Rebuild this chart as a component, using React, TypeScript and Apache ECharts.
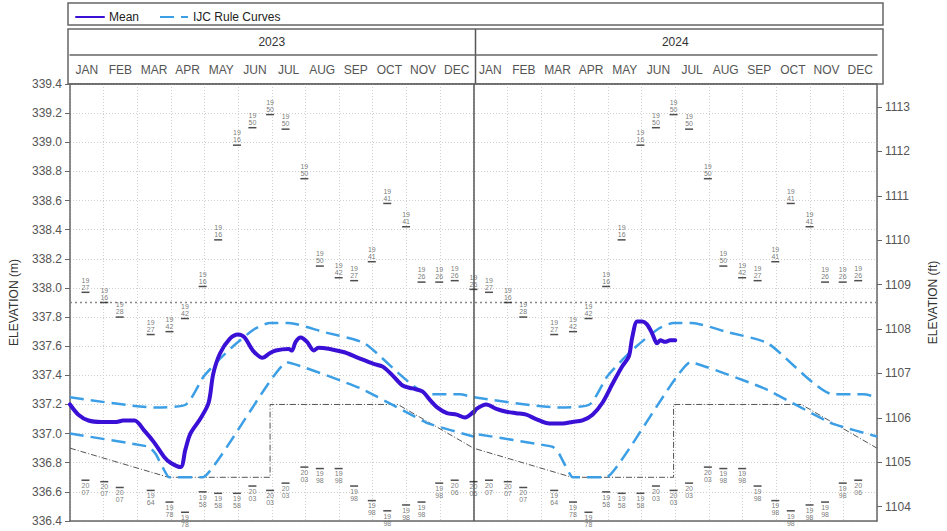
import React, { useEffect, useRef } from 'react';
import * as echarts from 'echarts';

const MONTHS = ['JAN', 'FEB', 'MAR', 'APR', 'MAY', 'JUN', 'JUL', 'AUG', 'SEP', 'OCT', 'NOV', 'DEC'];
const YEARS = ['2023', '2024'];
const FT_TICKS = [1104, 1105, 1106, 1107, 1108, 1109, 1110, 1111, 1112, 1113];

// [month within year, elevation m]
const mean2023: [number, number][] = [
  [0, 337.2], [0.25, 337.13], [0.55, 337.09], [0.94, 337.08], [1.38, 337.08], [1.58, 337.09], [1.92, 337.09],
  [2.21, 337.02], [2.5, 336.94], [2.8, 336.84], [2.99, 336.8], [3.29, 336.77], [3.43, 336.89], [3.58, 337.0],
  [3.87, 337.1], [4.12, 337.21], [4.26, 337.41], [4.46, 337.55], [4.75, 337.65], [5.0, 337.68], [5.19, 337.66],
  [5.44, 337.57], [5.73, 337.52], [5.93, 337.55], [6.12, 337.57], [6.5, 337.58], [6.6, 337.57], [6.71, 337.63],
  [6.86, 337.66], [7.05, 337.63], [7.25, 337.57], [7.39, 337.59], [8.13, 337.56], [8.57, 337.52], [9.01, 337.48],
  [9.3, 337.46], [9.59, 337.4], [9.89, 337.33], [10.18, 337.31], [10.48, 337.29], [10.71, 337.23], [10.92, 337.18],
  [11.21, 337.14], [11.5, 337.13], [11.74, 337.11], [12, 337.15],
];
const mean2024: [number, number][] = [
  [0, 337.14], [0.09, 337.17], [0.38, 337.2], [0.68, 337.17], [0.98, 337.15], [1.27, 337.14], [1.57, 337.13],
  [1.86, 337.1], [2.26, 337.07], [2.65, 337.07], [2.94, 337.08], [3.24, 337.09], [3.54, 337.13], [3.83, 337.21],
  [4.13, 337.34], [4.42, 337.46], [4.62, 337.53], [4.72, 337.66], [4.87, 337.77], [5.02, 337.77], [5.16, 337.75],
  [5.31, 337.69], [5.46, 337.62], [5.56, 337.64], [5.7, 337.63], [5.85, 337.64], [6.0, 337.64],
];
const ruleUpper: [number, number][] = [
  [0, 337.25], [2.5, 337.18], [3.45, 337.2], [3.97, 337.39], [4.4, 337.5], [4.85, 337.6], [5.5, 337.72],
  [5.95, 337.76], [6.5, 337.76], [7.5, 337.7], [8.75, 337.62], [10.7, 337.27], [11.6, 337.27], [12, 337.25],
];
const ruleLower: [number, number][] = [
  [0, 337.0], [2.35, 336.91], [2.55, 336.86], [2.95, 336.7], [3.95, 336.7], [6.45, 337.49], [8.65, 337.31],
  [10.65, 337.07], [12, 336.98],
];
const drawdown: [number, number][] = [
  [0, 336.9], [2.93, 336.7], [5.95, 336.7], [5.95, 337.2], [9.75, 337.2], [12, 336.9],
];
const FLOOD_LEVEL = 337.9;

// record dates (day of year) with record high / low elevations and years
const recordDays = [0, 14, 31, 45, 73, 90, 104, 120, 134, 151, 165, 181, 195, 212, 226, 243, 257, 273, 287, 304, 318, 334, 348];
const recordMax = [337.99, 337.97, 337.9, 337.8, 337.68, 337.7, 337.79, 338.01, 338.33, 338.98, 339.1, 339.19, 339.09, 338.75, 338.15, 338.07, 338.05, 338.18, 338.58, 338.42, 338.04, 338.04, 338.05];
const recordMaxYear = ['1926', '1927', '1916', '1928', '1927', '1942', '1942', '1916', '1916', '1916', '1950', '1950', '1950', '1950', '1950', '1942', '1927', '1941', '1941', '1941', '1926', '1926', '1926'];
const recordMin = [336.67, 336.68, 336.67, 336.63, 336.61, 336.53, 336.46, 336.6, 336.59, 336.59, 336.64, 336.61, 336.66, 336.77, 336.76, 336.76, 336.64, 336.54, 336.47, 336.51, 336.53, 336.66, 336.68];
const recordMinYear = ['2006', '2007', '2007', '2007', '1964', '1978', '1978', '1958', '1958', '1958', '2003', '2003', '2003', '2003', '1998', '1998', '1998', '1998', '1998', '1998', '1998', '1998', '2006'];

const W = 947;
const H = 531;
const GRID = { left: 68, right: 64, top: 84, bottom: 10 };
const FONT = '"Liberation Sans", Arial, sans-serif';
const MEAN_COLOR = '#3a0fd6';
const RULE_COLOR = '#3c9fe6';
const FT = 0.3048;

const bothYears = (pts: [number, number][]) =>
  YEARS.flatMap((_, yi) => pts.map(([m, v]) => [m + yi * 12, v]));

const recordPoints = (vals: number[], yrs: string[]) =>
  YEARS.flatMap((_, yi) =>
    recordDays.map((d, i) => ({ value: [yi * 12 + (d * 12) / 365, vals[i]], name: yrs[i] }))
  ).filter((p) => p.value[0] > 0);

export default function App() {
  const ref = useRef<HTMLDivElement>(null);
  useEffect(() => {
    const chart = echarts.init(ref.current!, null, { renderer: 'svg' });
    const plotW = W - GRID.left - GRID.right;
    const divX = GRID.left + plotW / 2;
    const labelStyle = (pos: 'top' | 'bottom') => ({
      show: true,
      position: pos,
      distance: 1,
      fontSize: 7,
      lineHeight: 7,
      color: '#555',
      fontFamily: FONT,
      formatter: (p: any) => `${p.name.slice(0, 2)}\n${p.name.slice(2)}`,
    });
    chart.setOption({
      animation: false,
      textStyle: { fontFamily: FONT },
      grid: { ...GRID, containLabel: false },
      legend: {
        left: GRID.left + 2,
        top: 6,
        itemWidth: 28,
        itemHeight: 10,
        itemGap: 20,
        itemStyle: { opacity: 0 },
        textStyle: { fontSize: 12, color: '#222', fontFamily: FONT },
        data: ['Mean', 'IJC Rule Curves'],
      },
      graphic: [
        { type: 'rect', shape: { x: GRID.left, y: 3, width: plotW, height: 22 }, style: { fill: 'none', stroke: '#666', lineWidth: 1.5 } },
        { type: 'rect', shape: { x: GRID.left, y: 29, width: plotW, height: GRID.top - 29 }, style: { fill: 'none', stroke: '#666', lineWidth: 1.5 } },
        { type: 'line', shape: { x1: divX, y1: 29, x2: divX, y2: GRID.top }, style: { stroke: '#555', lineWidth: 1.5 } },
      ],
      xAxis: [
        {
          type: 'value', min: 0, max: 24, interval: 1, position: 'bottom',
          axisLine: { show: true, onZero: false, lineStyle: { color: '#666', width: 1.5 } },
          axisTick: { show: false }, axisLabel: { show: false },
          splitLine: { show: true, lineStyle: { color: '#cfcfcf', type: [1, 2], width: 1 } },
        },
        {
          type: 'category', position: 'top', offset: 0,
          data: YEARS.flatMap(() => MONTHS),
          axisLine: { show: true, lineStyle: { color: '#666', width: 1.5 } },
          axisTick: { show: false }, splitLine: { show: false },
          axisLabel: { interval: 0, margin: 8, fontSize: 12, color: '#555', fontFamily: FONT },
        },
        {
          type: 'category', position: 'top', offset: 29,
          data: YEARS,
          axisLine: { show: true, lineStyle: { color: '#666', width: 1.5 } },
          axisTick: { show: false }, splitLine: { show: false },
          axisLabel: { interval: 0, margin: 7, fontSize: 12, color: '#333', fontFamily: FONT },
        },
      ],
      yAxis: [
        {
          type: 'value', min: 336.4, max: 339.4, interval: 0.2, position: 'left',
          name: 'ELEVATION (m)', nameLocation: 'middle', nameGap: 50, nameRotate: 90,
          nameTextStyle: { fontSize: 12, color: '#333', fontFamily: FONT },
          axisLine: { show: true, lineStyle: { color: '#666', width: 1.5 } },
          axisTick: { show: true, length: 5, lineStyle: { color: '#666' } },
          axisLabel: { fontSize: 12, color: '#555', margin: 8, formatter: (v: number) => v.toFixed(1) },
          splitLine: { show: true, lineStyle: { color: '#cfcfcf', type: [1, 2], width: 1 } },
        },
        {
          type: 'value', min: 336.4 / FT, max: 339.4 / FT, position: 'right',
          name: 'ELEVATION (ft)', nameLocation: 'middle', nameGap: 50, nameRotate: 90,
          nameTextStyle: { fontSize: 12, color: '#333', fontFamily: FONT },
          axisLine: { show: true, lineStyle: { color: '#666', width: 1.5 } },
          axisTick: { show: true, length: 5, lineStyle: { color: '#666' }, customValues: FT_TICKS },
          axisLabel: { fontSize: 12, color: '#555', margin: 8, customValues: FT_TICKS, formatter: (v: number) => String(Math.round(v)) },
          splitLine: { show: false },
        },
      ],
      series: [
        {
          name: 'FloodLevel', type: 'line', symbol: 'none', silent: true,
          data: [[0, FLOOD_LEVEL], [24, FLOOD_LEVEL]],
          lineStyle: { color: '#888', width: 1.5, type: [2, 3] },
          markLine: {
            silent: true, symbol: 'none', label: { show: false },
            lineStyle: { color: '#555', width: 1.5, type: 'solid' },
            data: [{ xAxis: 12 }],
          },
          z: 1,
        },
        {
          name: 'Drawdown', type: 'line', symbol: 'none', silent: true,
          data: bothYears(drawdown),
          lineStyle: { color: '#555', width: 1, type: [6, 2, 1, 2] },
          z: 2,
        },
        {
          name: 'IJC Rule Curves', type: 'line', symbol: 'none',
          data: bothYears(ruleUpper), smooth: 0.2,
          lineStyle: { color: RULE_COLOR, width: 2.5, type: [14, 7] },
          itemStyle: { color: RULE_COLOR },
          z: 3,
        },
        {
          name: 'IJC Rule Curves', type: 'line', symbol: 'none',
          data: bothYears(ruleLower), smooth: 0.1,
          lineStyle: { color: RULE_COLOR, width: 2.5, type: [14, 7] },
          itemStyle: { color: RULE_COLOR },
          z: 3,
        },
        {
          name: 'Mean', type: 'line', symbol: 'none', smooth: 0.3,
          data: mean2023.map(([m, v]) => [m, v]),
          lineStyle: { color: MEAN_COLOR, width: 4, cap: 'round', join: 'round' },
          itemStyle: { color: MEAN_COLOR },
          z: 4,
        },
        {
          name: 'Mean', type: 'line', symbol: 'none', smooth: 0.3,
          data: mean2024.map(([m, v]) => [m + 12, v]),
          lineStyle: { color: MEAN_COLOR, width: 4, cap: 'round', join: 'round' },
          itemStyle: { color: MEAN_COLOR },
          z: 4,
        },
        {
          name: 'RecordMax', type: 'scatter', symbol: 'rect', symbolSize: [8, 1.5],
          itemStyle: { color: '#222' }, silent: true,
          data: recordPoints(recordMax, recordMaxYear),
          label: labelStyle('top'),
          z: 5,
        },
        {
          name: 'RecordMin', type: 'scatter', symbol: 'rect', symbolSize: [8, 1.5],
          itemStyle: { color: '#222' }, silent: true,
          data: recordPoints(recordMin, recordMinYear),
          label: labelStyle('bottom'),
          z: 5,
        },
      ],
    });
    return () => chart.dispose();
  }, []);
  return <div ref={ref} style={{ position: 'absolute', left: 0, top: 0, width: W, height: H, background: '#fff' }} />;
}
